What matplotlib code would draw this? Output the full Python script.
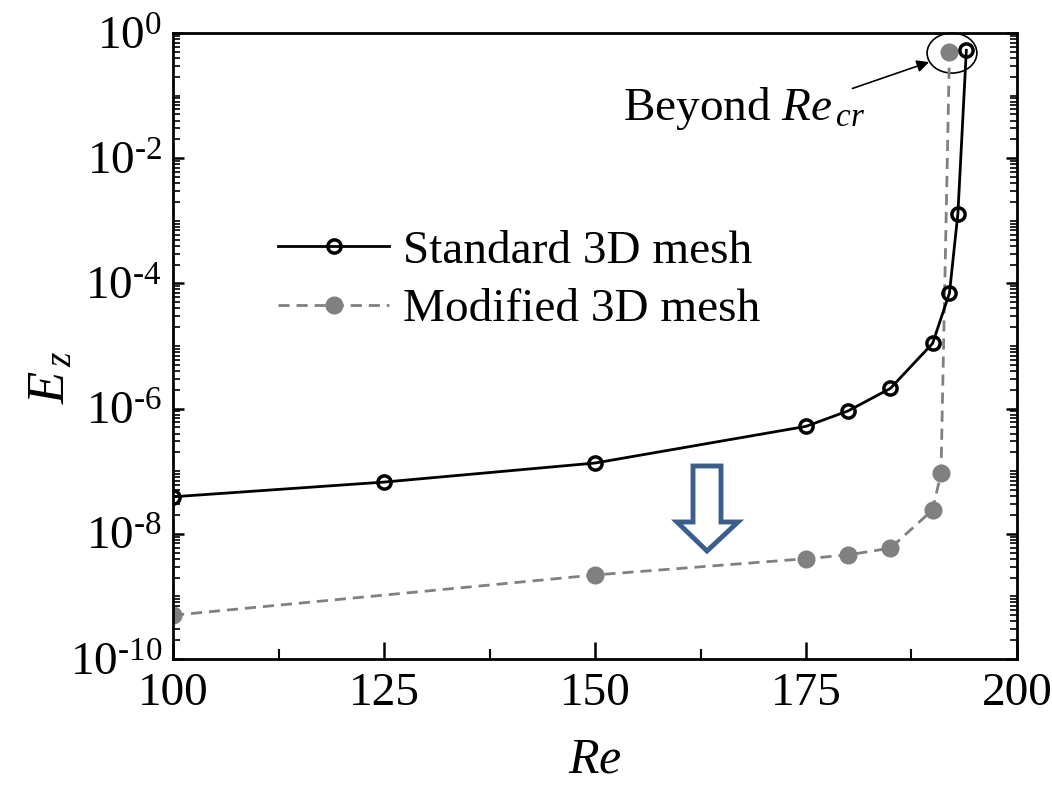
import matplotlib
matplotlib.use("Agg")
import matplotlib.pyplot as plt
import numpy as np
from matplotlib.patches import Ellipse, Polygon
from matplotlib.ticker import LogLocator, FixedLocator, FuncFormatter

plt.rcParams['font.family'] = ['Liberation Serif', 'DejaVu Serif']
plt.rcParams['mathtext.fontset'] = 'custom'
plt.rcParams['mathtext.rm'] = 'Liberation Serif'
plt.rcParams['mathtext.it'] = 'Liberation Serif:italic'

# data
re_std = [100, 125, 150, 175, 180, 185, 190, 192, 193, 194]
ez_std = [3.9e-8, 6.7e-8, 1.35e-7, 5.2e-7, 9.2e-7, 2.1e-6, 1.1e-5, 7.0e-5, 1.3e-3, 0.53]
re_mod = [100, 150, 175, 180, 185, 190, 191, 192]
ez_mod = [5.0e-10, 2.2e-9, 4.0e-9, 4.6e-9, 5.9e-9, 2.4e-8, 9.3e-8, 0.5]
xticks = [100, 125, 150, 175, 200]
yticks = [1e-10, 1e-8, 1e-6, 1e-4, 1e-2, 1e0]

fig = plt.figure(figsize=(10.52, 7.86), dpi=100)
ax = fig.add_axes([0.1645, 0.1616, 0.8022, 0.7964])

gray = '#808080'
ax.plot(re_mod, ez_mod, '--', color=gray, lw=2, dashes=(4, 2.5),
        marker='o', ms=12, mfc=gray, mec=gray, label='Modified 3D mesh', zorder=2)
ax.plot(re_std, ez_std, '-', color='black', lw=2,
        marker='o', ms=9.5, mfc='none', mec='black', mew=2.5, label='Standard 3D mesh', zorder=3)

ax.set_yscale('log')
ax.set_xlim(100, 200)
ax.set_ylim(1e-10, 1e0)

def ylab(v, p):
    e = int(round(np.log10(v)))
    s = str(abs(e))
    if e < 0:
        s = '\u2010' + s
    return r'$10^{%s}$' % s

ax.xaxis.set_major_locator(FixedLocator(xticks))
ax.xaxis.set_minor_locator(FixedLocator([112.5, 137.5, 162.5, 187.5]))
ax.yaxis.set_major_locator(FixedLocator(yticks))
ax.yaxis.set_minor_locator(LogLocator(base=10, subs=np.arange(1, 10), numticks=30))
ax.yaxis.set_minor_formatter(plt.NullFormatter())
ax.yaxis.set_major_formatter(FuncFormatter(ylab))

ax.tick_params(axis='x', which='major', direction='in', length=12, width=1.8,
               labelsize=34, pad=10, top=False)
ax.tick_params(axis='x', which='minor', direction='in', length=7, width=1.5, top=False)
ax.tick_params(axis='y', which='major', direction='in', length=8, width=1.8,
               labelsize=34, pad=8, right=True)
ax.tick_params(axis='y', which='minor', direction='in', length=5, width=1.2, right=True)
for s in ax.spines.values():
    s.set_linewidth(2)

ax.set_xlabel(r'$Re$', fontsize=36)
ax.xaxis.set_label_coords(0.5, -0.125)
ax.set_ylabel(r'$E_{\,z}$', fontsize=38)
ax.yaxis.set_label_coords(-0.115, 0.45)

handles, labels = ax.get_legend_handles_labels()
ax.legend(handles[::-1], labels[::-1], loc='upper left', bbox_to_anchor=(0.102, 0.716),
          frameon=False, fontsize=34, handlelength=2.35, handletextpad=0.3,
          labelspacing=0.33, borderaxespad=0)

# annotation: ellipse around the points beyond Re_cr
ax.add_patch(Ellipse((0.923, 0.968), 0.059, 0.064, transform=ax.transAxes,
                     fill=False, ec='black', lw=1.2, clip_on=False))
ax.annotate('', xy=(0.899, 0.955), xycoords='axes fraction',
            xytext=(0.802, 0.91), textcoords='axes fraction',
            arrowprops=dict(arrowstyle='-|>', color='black', lw=1.2, mutation_scale=18))
ax.text(0.82, 0.88, r'Beyond $Re_{\,cr}$', transform=ax.transAxes,
        fontsize=34, ha='right', va='center')

# hollow blue down arrow
def px(x, y):
    return ((x - 173) / 844.0, (659 - y) / 626.0)
arrow_pts = [px(693, 466), px(721, 466), px(721, 522), px(738, 522),
             px(707, 551), px(677, 522), px(693, 522)]
ax.add_patch(Polygon(arrow_pts, closed=True, transform=ax.transAxes,
                     fc='white', ec='#3B5E8C', lw=3.5, joinstyle='miter'))

fig.savefig('out.png', dpi=100)
